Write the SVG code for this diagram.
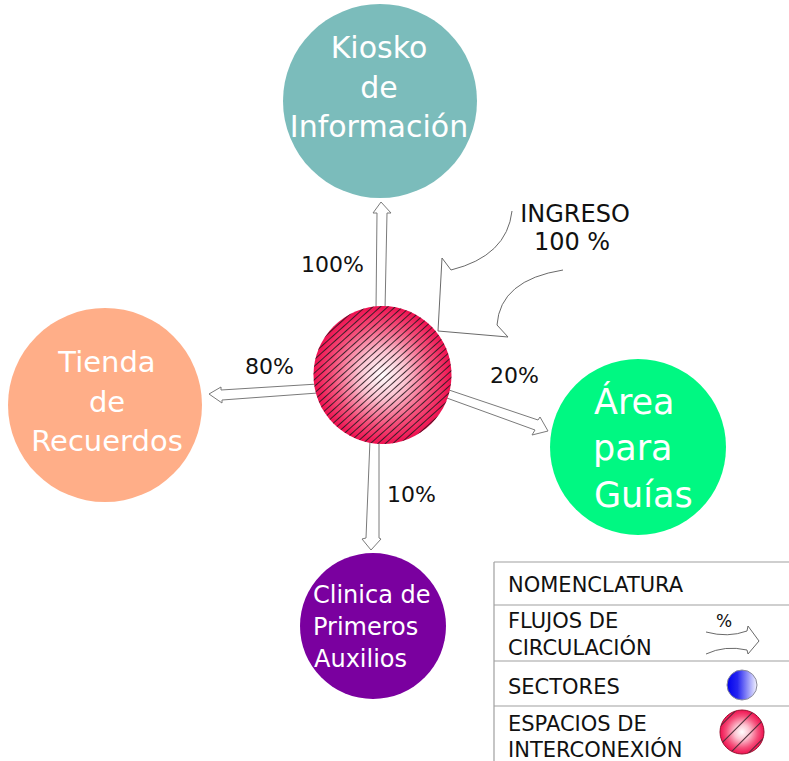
<svg xmlns="http://www.w3.org/2000/svg" width="789" height="761" viewBox="0 0 789 761">
  <style>
    .node-label { font-family: "DejaVu Sans", Verdana, sans-serif; fill: #ffffff; text-anchor: middle; }
    .pct { font-family: "DejaVu Sans", Verdana, sans-serif; font-size: 22px; fill: #111111; }
    .legend-text { font-family: "DejaVu Sans", Verdana, sans-serif; font-size: 21px; fill: #111111; }
    .flow { fill: #ffffff; stroke: #7a7a7a; stroke-width: 1; stroke-linejoin: miter; }
    .flow-open { fill: none; stroke: #6a6a6a; stroke-width: 1; }
    .legend-line { stroke: #a0a0a0; stroke-width: 1.2; fill: none; }
  </style>
  <defs>
    <radialGradient id="hubGrad" cx="0.5" cy="0.5" r="0.5">
      <stop offset="0" stop-color="#ffffff"/>
      <stop offset="0.35" stop-color="#fcc2d0"/>
      <stop offset="0.72" stop-color="#f5507b"/>
      <stop offset="1" stop-color="#ef1050"/>
    </radialGradient>
    <linearGradient id="blueGrad" x1="0" y1="0" x2="1" y2="0">
      <stop offset="0" stop-color="#0000ee"/>
      <stop offset="0.35" stop-color="#2626f0"/>
      <stop offset="1" stop-color="#f4f4ff"/>
    </linearGradient>
    <pattern id="hatch" patternUnits="userSpaceOnUse" width="5" height="5" patternTransform="rotate(-42)">
      <line x1="0" y1="2.5" x2="5" y2="2.5" stroke="#2a1a20" stroke-width="0.9"/>
    </pattern>
    <pattern id="hatchWide" patternUnits="userSpaceOnUse" width="13" height="13" patternTransform="translate(742,732) rotate(-45)">
      <line x1="0" y1="6.5" x2="13" y2="6.5" stroke="#4a2a35" stroke-width="1"/>
    </pattern>
  </defs>

  <g id="connectors">
    <polygon id="flow-kiosko" class="flow" points="376,310 377,213 373,213 381,202 391,213 387,213 385,310"/>
    <polygon id="flow-tienda" class="flow" points="318,384 221,390 221,387 209,394 222,403 222,400 318,393"/>
    <polygon id="flow-guias" class="flow" points="446,389 538,420 540,417 548,431 532,435 535,430 444,397"/>
    <polygon id="flow-clinica" class="flow" points="370,440 366,538 362,539 371,550 381,539 379,538 379,440"/>
    <path id="flow-ingreso" class="flow-open" d="M512,211 Q507,256 451,270 L442,258 L438,331 L508,337 L497,325 Q500,280 563,270"/>
  </g>

  <g id="labels">
    <text class="pct" x="301" y="272">100%</text>
    <text class="pct" x="245" y="374">80%</text>
    <text class="pct" x="490" y="383">20%</text>
    <text class="pct" x="387" y="502">10%</text>
    <text class="pct" x="575" y="222" text-anchor="middle" style="font-size:24px">INGRESO</text>
    <text class="pct" x="572" y="250" text-anchor="middle" style="font-size:24px">100 %</text>
  </g>

  <g id="node-kiosko">
    <circle cx="380" cy="101" r="97" fill="#7bbcbb"/>
    <text class="node-label" x="379" y="58" font-size="30">Kiosko</text>
    <text class="node-label" x="379" y="98" font-size="30">de</text>
    <text class="node-label" x="379" y="137" font-size="30">Información</text>
  </g>

  <g id="node-tienda">
    <circle cx="105" cy="405" r="97" fill="#ffae88"/>
    <text class="node-label" x="107" y="372" font-size="29">Tienda</text>
    <text class="node-label" x="107" y="412" font-size="29">de</text>
    <text class="node-label" x="107" y="451" font-size="29">Recuerdos</text>
  </g>

  <g id="node-guias">
    <circle cx="638" cy="447" r="88" fill="#00f882"/>
    <text class="node-label" x="594" y="414" font-size="35" style="text-anchor:start">Área</text>
    <text class="node-label" x="593" y="460" font-size="35" style="text-anchor:start">para</text>
    <text class="node-label" x="594" y="507" font-size="35" style="text-anchor:start">Guías</text>
  </g>

  <g id="node-clinica">
    <circle cx="373" cy="626" r="73" fill="#7a009f"/>
    <text class="node-label" x="313" y="603" font-size="24" style="text-anchor:start">Clinica de</text>
    <text class="node-label" x="313" y="635" font-size="24" style="text-anchor:start">Primeros</text>
    <text class="node-label" x="314" y="667" font-size="24" style="text-anchor:start">Auxilios</text>
  </g>

  <g id="node-hub">
    <circle cx="382.5" cy="375" r="69" fill="url(#hubGrad)"/>
    <circle cx="382.5" cy="375" r="69" fill="url(#hatch)"/>
  </g>

  <g id="legend">
    <path class="legend-line" d="M494,562 H789 M494,605 H789 M494,661 H789 M494,706 H789 M494,562 V761"/>
    <text class="legend-text" x="508" y="592">NOMENCLATURA</text>
    <text class="legend-text" x="508" y="628">FLUJOS DE</text>
    <text class="legend-text" x="508" y="655">CIRCULACIÓN</text>
    <text class="legend-text" x="508" y="694">SECTORES</text>
    <text class="legend-text" x="508" y="731">ESPACIOS DE</text>
    <text class="legend-text" x="508" y="757">INTERCONEXIÓN</text>
    <text class="pct" x="716" y="627" style="font-size:17px">%</text>
    <path class="flow-open" d="M706,632 Q728,638 747,631 L748,626 L759,641 L748,654 L747,650 Q725,645 706,654" stroke="#888888"/>
    <circle cx="742" cy="685" r="15" fill="url(#blueGrad)" stroke="#8a8a9a" stroke-width="1"/>
    <circle cx="742" cy="732" r="22" fill="url(#hubGrad)" stroke="#9a1030" stroke-width="1"/>
    <circle cx="742" cy="732" r="22" fill="url(#hatchWide)"/>
  </g>
</svg>
